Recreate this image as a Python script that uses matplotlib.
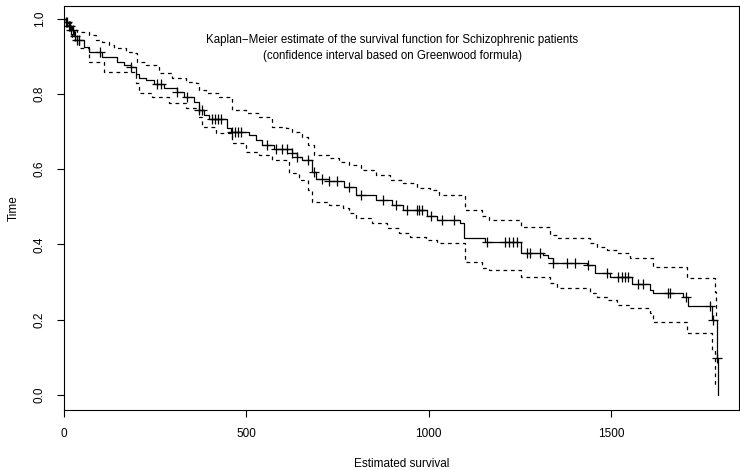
import numpy as np
import matplotlib
matplotlib.use("Agg")
import matplotlib.pyplot as plt

# Kaplan-Meier step function (time, survival after step)
km_time = [0, 5.5, 13.7, 19, 27, 36, 55, 69, 104, 146, 165, 184, 198, 206, 225, 247,
           275, 310, 330, 357, 371, 385, 398, 448, 459, 508, 527, 544, 577, 626, 640,
           654, 679, 692, 728, 769, 802, 857, 901, 929, 997, 1022, 1085, 1097, 1154,
           1255, 1313, 1327, 1341, 1434, 1456, 1497, 1558, 1607, 1615, 1698, 1712,
           1777, 1791, 1794]
km_surv = [1.0, 0.991, 0.980, 0.969, 0.954, 0.943, 0.924, 0.911, 0.898, 0.884, 0.876,
           0.871, 0.853, 0.842, 0.837, 0.826, 0.815, 0.805, 0.792, 0.778, 0.757, 0.744,
           0.733, 0.709, 0.699, 0.691, 0.677, 0.664, 0.653, 0.643, 0.632, 0.624, 0.592,
           0.574, 0.568, 0.552, 0.531, 0.518, 0.505, 0.491, 0.475, 0.465, 0.457, 0.417,
           0.406, 0.377, 0.372, 0.364, 0.351, 0.345, 0.324, 0.313, 0.295, 0.279, 0.271,
           0.260, 0.236, 0.199, 0.098, 0.0]

# Upper confidence bound (Greenwood)
up_time = [0, 5, 22, 36, 69, 88, 104, 124, 137, 170, 192, 201, 225, 261, 297, 335, 363,
           371, 390, 426, 462, 500, 536, 571, 610, 626, 654, 668, 687, 728, 755, 783, 816,
           857, 893, 929, 967, 1003, 1030, 1099, 1148, 1167, 1255, 1332, 1352, 1442, 1461,
           1489, 1516, 1552, 1615, 1709, 1786, 1788]
up_surv = [1.0, 0.988, 0.969, 0.964, 0.956, 0.943, 0.938, 0.930, 0.922, 0.911, 0.908,
           0.884, 0.876, 0.855, 0.842, 0.831, 0.829, 0.810, 0.802, 0.791, 0.757, 0.749,
           0.738, 0.712, 0.709, 0.699, 0.685, 0.664, 0.637, 0.629, 0.619, 0.611, 0.598,
           0.584, 0.571, 0.563, 0.550, 0.544, 0.531, 0.491, 0.475, 0.465, 0.446, 0.425,
           0.417, 0.404, 0.393, 0.385, 0.377, 0.364, 0.340, 0.311, 0.274, 0.199]

# Lower confidence bound (Greenwood)
lo_time = [0, 5, 22, 41, 69, 110, 198, 206, 242, 288, 335, 371, 379, 418, 462, 500, 536,
           571, 618, 646, 668, 681, 728, 764, 783, 802, 846, 885, 920, 948, 994, 1022,
           1099, 1148, 1167, 1255, 1332, 1352, 1442, 1461, 1489, 1516, 1552, 1607, 1615,
           1709, 1777, 1786]
lo_surv = [1.0, 0.982, 0.943, 0.922, 0.884, 0.858, 0.829, 0.802, 0.791, 0.775, 0.762,
           0.738, 0.712, 0.696, 0.669, 0.645, 0.637, 0.624, 0.590, 0.571, 0.544, 0.513,
           0.505, 0.497, 0.483, 0.470, 0.457, 0.444, 0.430, 0.420, 0.412, 0.404, 0.353,
           0.338, 0.332, 0.313, 0.297, 0.284, 0.271, 0.260, 0.252, 0.239, 0.231, 0.218,
           0.194, 0.165, 0.120, 0.019]

# Censoring times
cens_time = [5.5, 8, 14, 16, 19, 25, 30, 36, 41, 99, 184, 255, 266, 310, 338, 371, 379,
             407, 415, 423, 431, 462, 470, 478, 486, 558, 582, 599, 613, 626, 640, 668,
             687, 709, 728, 750, 783, 816, 874, 912, 942, 967, 975, 983, 1008, 1036, 1071,
             1159, 1209, 1220, 1231, 1242, 1269, 1277, 1305, 1341, 1379, 1401, 1437, 1489,
             1519, 1530, 1538, 1547, 1574, 1588, 1657, 1662, 1706, 1772, 1780, 1791]

title_lines = ["Kaplan\u2212Meier estimate of the survival function for Schizophrenic patients",
               "(confidence interval based on Greenwood formula)"]
x_ticks = [0, 500, 1000, 1500]
y_ticks = [0.0, 0.2, 0.4, 0.6, 0.8, 1.0]

plt.rcParams['font.family'] = ['Liberation Sans', 'DejaVu Sans']

W, H = 740, 470
fig = plt.figure(figsize=(W / 100, H / 100), dpi=100)
ax = fig.add_axes([64 / W, (H - 410) / H, (739 - 64) / W, (410 - 6) / H])

km_t = np.array(km_time, dtype=float)
km_s = np.array(km_surv, dtype=float)
ax.step(km_t, km_s, where='post', color='black', lw=0.9)
ax.step(up_time, up_surv, where='post', color='black', lw=0.9, ls=(0, (3, 3)))
ax.step(lo_time, lo_surv, where='post', color='black', lw=0.9, ls=(0, (3, 3)))

ct = np.array(cens_time, dtype=float)
idx = np.searchsorted(km_t, ct, side='right') - 1
cs = km_s[idx]
ax.plot(ct, cs, ls='none', marker='+', color='black', ms=7, mew=0.9)

ax.set_xlim(0, (739 - 65) / 0.364)
ax.set_ylim((395 - 410) / 376.5, (395 - 6) / 376.5)

ax.set_xticks(x_ticks)
ax.set_xticklabels([str(v) for v in x_ticks])
ax.set_yticks(y_ticks)
ax.set_yticklabels([f"{v:.1f}" for v in y_ticks], rotation=90, va='center')
ax.tick_params(direction='out', length=5, width=0.8, labelsize=8.5, pad=8)
for s in ax.spines.values():
    s.set_linewidth(0.8)

ax.set_xlabel("Estimated survival", fontsize=8.5, labelpad=13)
ax.set_ylabel("Time", fontsize=8.5, labelpad=10)

ax.text(900, (395 - 40) / 376.5, title_lines[0], ha='center', va='center', fontsize=8.3)
ax.text(900, (395 - 56) / 376.5, title_lines[1], ha='center', va='center', fontsize=8.3)

fig.savefig("out.png", dpi=100)
